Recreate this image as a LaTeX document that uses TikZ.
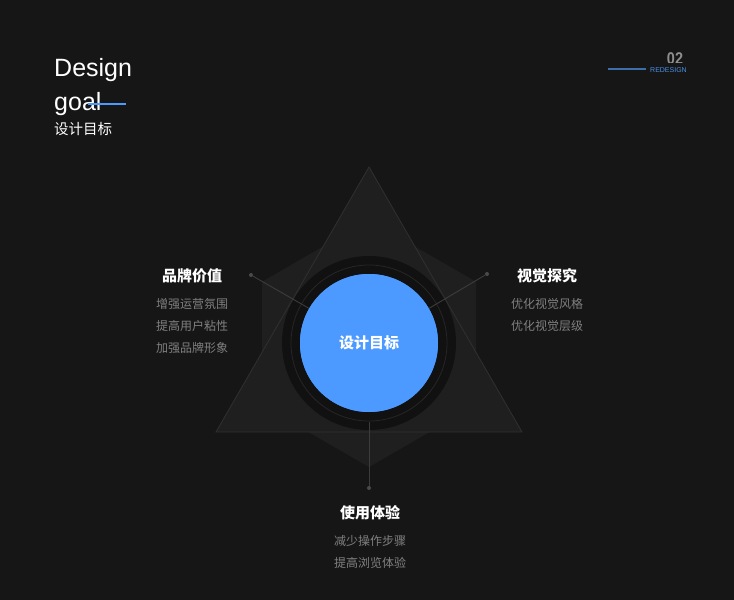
\documentclass[tikz,border=0pt]{standalone}
\usepackage{fontspec}
\setmainfont{Liberation Sans}
\newfontfamily\cjk{Noto Sans CJK SC}
\definecolor{bgc}{HTML}{161616}
\definecolor{shapec}{HTML}{1F1F1F}
\definecolor{edgec}{HTML}{303030}
\definecolor{darkc}{HTML}{111111}
\definecolor{ringc}{HTML}{262626}
\definecolor{bluec}{HTML}{4C9AFF}
\definecolor{linec}{HTML}{3C3C3C}
\definecolor{dotc}{HTML}{4A4A4A}
\definecolor{subgray}{HTML}{808080}
\definecolor{numgray}{HTML}{8E8E8E}
\definecolor{tagblue}{HTML}{4A8FE6}
\definecolor{tagline}{HTML}{3D6EAA}
\tikzset{
  head/.style={font=\cjk\bfseries\fontsize{15}{18}\selectfont, text=white, inner sep=0pt},
  item/.style={font=\cjk\fontsize{12}{14}\selectfont, text=subgray, inner sep=0pt},
  ptdot/.style={circle, fill=dotc, inner sep=0pt, minimum size=4pt},
  conn/.style={draw=linec, line width=0.9pt},
}
\begin{document}
\begin{tikzpicture}[x=1pt,y=-1pt]
\fill[bgc] (0,0) rectangle (734,600);
\useasboundingbox (0,0) rectangle (734,600);

% title
\node[anchor=base west, inner sep=0pt, text=white, font=\fontsize{25}{25}\selectfont] (t1) at (54,76) {Design};
\node[anchor=base west, inner sep=0pt, text=white, font=\fontsize{25}{25}\selectfont] (t2) at (54,110) {goal};
\coordinate (bl1) at (88,104);
\coordinate (bl2) at (126,104);
\draw[bluec, line width=2.6pt] (bl1) -- (bl2);
\node[anchor=west, inner sep=0pt, text=white, font=\cjk\fontsize{14.5}{16}\selectfont] (t3) at (54,129) {设计目标};

% top right tag
\begin{scope}
\clip (655,48) rectangle (695,62.5);
\node[anchor=base, inner sep=0pt, text=numgray, font=\bfseries\fontsize{17}{17}\selectfont, xscale=0.85] (num) at (675,64.5) {02};
\end{scope}
\coordinate (tl1) at (608,69);
\coordinate (tl2) at (646,69);
\draw[tagline, line width=1.1pt] (tl1) -- (tl2);
\node[anchor=west, inner sep=0pt, text=tagblue, font=\fontsize{7}{7}\selectfont] (tag) at (650,70) {REDESIGN};

% hexagon and triangle
\fill[shapec] (369,220) -- (476,281.75) -- (476,405.25) -- (369,467) -- (262,405.25) -- (262,281.75) -- cycle;
\filldraw[fill=shapec, draw=edgec, line width=0.8pt] (369,167) -- (522,432) -- (216,432) -- cycle;

% circles
\fill[darkc] (369,343) circle[radius=87];
\draw[ringc, line width=0.8pt] (369,343) circle[radius=78];

% connectors
\node[ptdot] (dl) at (251,275) {};
\node[ptdot] (dr) at (487,274) {};
\node[ptdot] (db) at (369,488) {};
\node[circle, fill=bluec, minimum size=138pt, inner sep=0pt] (c) at (369,343) {};
\coordinate (cb) at (369,422);
\draw[conn] (dl) -- (c.150);
\draw[conn] (dr) -- (c.30);
\draw[conn] (db) -- (cb);
\node[circle, fill=bluec, minimum size=138pt, inner sep=0pt, font=\cjk\bfseries\fontsize{15}{18}\selectfont, text=white] (cc) at (369,343) {设计目标};

% left block
\node[head] (h1) at (192,276) {品牌价值};
\node[item] (a1) at (192,304) {增强运营氛围};
\node[item] (a2) at (192,326) {提高用户粘性};
\node[item] (a3) at (192,348) {加强品牌形象};

% right block
\node[head] (h2) at (547,276) {视觉探究};
\node[item] (b1) at (547,304) {优化视觉风格};
\node[item] (b2) at (547,326) {优化视觉层级};

% bottom block
\node[head] (h3) at (370,513) {使用体验};
\node[item] (e1) at (370,541) {减少操作步骤};
\node[item] (e2) at (370,563) {提高浏览体验};
\end{tikzpicture}
\end{document}
